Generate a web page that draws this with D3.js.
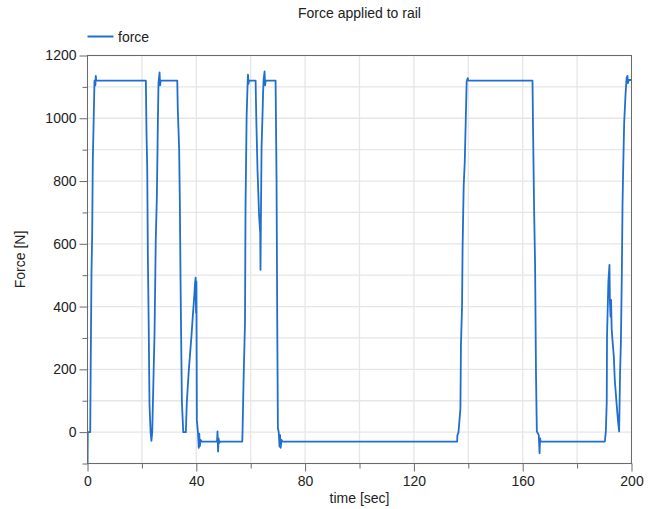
<!DOCTYPE html>
<html>
<head>
<meta charset="utf-8">
<script src="https://cdn.jsdelivr.net/npm/d3@7"></script>
<style>
  html, body { margin: 0; padding: 0; background: #fff; }
  svg { display: block; font-family: "Liberation Sans", Arial, sans-serif; }
</style>
</head>
<body>
<svg id="chart" width="665" height="509"></svg>
<script>
// Force applied to the rail over a 200 s run
const timeSec = [
  0, 0.1, 1.0, 1.2, 1.47, 1.73, 1.95, 2.2, 2.57, 2.9, 3.05, 3.2,
  21.45, 21.7, 21.96, 22.2, 22.44, 22.8, 23.2, 23.5, 23.8, 24.1, 24.65, 25.1, 25.5, 25.86, 26.1, 26.5, 26.7, 26.9,
  33.0, 33.2, 33.7, 33.95, 34.2, 34.7, 35.2, 36.15, 36.5, 37.25, 38.25, 38.7, 39.25, 39.5, 39.75, 39.9, 40.05, 40.2,
  40.6, 40.9, 41.1, 41.3, 41.6, 42.0,
  47.6, 47.8, 48.0, 48.2, 48.4, 48.7,
  56.9, 57.0, 57.4, 57.9, 58.1, 58.5, 58.85, 59.0, 59.2, 59.4,
  61.8, 62.05, 62.5, 63.1, 63.5, 63.6, 63.75, 64.0, 64.4, 64.55, 64.75, 65.1, 65.3, 65.5,
  69.15, 69.5, 69.75, 70.0, 70.3, 70.6, 70.8, 71.0, 71.3, 71.7,
  135.9, 136.0, 136.4, 137.1, 137.3, 137.7, 137.9, 138.3, 138.7, 139.1, 139.4, 139.8, 140.0,
  163.6, 163.8, 164.2, 164.55, 164.9, 165.2, 165.9, 166.2, 166.4, 166.6,
  190.2, 190.55, 190.9, 191.0, 191.5, 191.9, 192.05, 192.3, 192.5, 192.7, 193.0, 193.5, 193.85, 194.5, 195.0, 195.45,
  195.8, 196.1, 196.45, 196.7, 196.9, 197.3, 197.8, 198.2, 198.5, 198.7, 199.0, 200
];
const forceN = [
  -140, 0, 0, 237, 507, 636, 868, 966, 1120, 1105, 1135, 1120,
  1120, 950, 842, 552, 389, 87, 0, -28, 0, 113, 317, 613, 751, 979, 1112, 1146, 1105, 1120,
  1120, 1027, 900, 735, 485, 97, 0, 0, 93, 198, 310, 368, 432, 470, 492, 380, 480, 39,
  0, -50, -5, -45, -25, -30,
  -30, 2, -62, -20, -35, -30,
  -30, 0, 173, 348, 719, 1006, 1107, 1139, 1110, 1120,
  1120, 1002, 836, 687, 635, 517, 680, 910, 1027, 1081, 1123, 1149, 1105, 1120,
  1120, 804, 364, 14, 0, -46, -10, -50, -25, -30,
  -30, -10, 0, 75, 278, 400, 587, 783, 862, 1006, 1117, 1128, 1120,
  1120, 969, 708, 533, 177, 2, -9, -67, -20, -30,
  -30, 0, 97, 305, 480, 533, 420, 368, 421, 330, 294, 241, 167, 93, 40, 2,
  189, 285, 508, 724, 820, 985, 1075, 1128, 1135, 1112, 1122, 1122
];

const xMajorTicks = [0, 40, 80, 120, 160, 200];
const xMinorTicks = [20, 60, 100, 140, 180];
const yMajorTicks = [0, 200, 400, 600, 800, 1000, 1200];
const yMinorTicks = [-100, 100, 300, 500, 700, 900, 1100];

const titleText = "Force applied to rail";
const xLabel = "time [sec]";
const yLabel = "Force [N]";
const seriesName = "force";

const svg = d3.select("#chart");
const lineColor = "#1f6fd0";
const axisColor = "#6a6a6a";
const gridColor = "#e6e6e6";
const textColor = "#222";

const x = d3.scaleLinear().domain([0, 200]).range([87.5, 631.5]);
const y = d3.scaleLinear().domain([-100, 1200]).range([463.5, 55.5]);

// grid lines
const grid = svg.append("g");
grid.selectAll("line.gx")
  .data(xMajorTicks.concat(xMinorTicks))
  .join("line")
  .attr("x1", d => x(d)).attr("x2", d => x(d))
  .attr("y1", y.range()[1]).attr("y2", y.range()[0])
  .attr("stroke", gridColor).attr("stroke-width", 1.3);
grid.selectAll("line.gy")
  .data(yMajorTicks.concat(yMinorTicks))
  .join("line")
  .attr("y1", d => y(d)).attr("y2", d => y(d))
  .attr("x1", x.range()[0]).attr("x2", x.range()[1])
  .attr("stroke", gridColor).attr("stroke-width", 1.3);

// data line, clipped to the plot frame
svg.append("clipPath").attr("id", "plotClip")
  .append("rect")
  .attr("x", x.range()[0]).attr("y", y.range()[1])
  .attr("width", x.range()[1] - x.range()[0])
  .attr("height", y.range()[0] - y.range()[1]);

const pts = timeSec.map((t, i) => [t, forceN[i]]);
const line = d3.line().x(d => x(d[0])).y(d => y(d[1]));
svg.append("path")
  .datum(pts)
  .attr("clip-path", "url(#plotClip)")
  .attr("d", line)
  .attr("fill", "none")
  .attr("stroke", lineColor)
  .attr("stroke-width", 1.8)
  .attr("stroke-linejoin", "round");

// plot frame
svg.append("rect")
  .attr("x", x.range()[0]).attr("y", y.range()[1])
  .attr("width", x.range()[1] - x.range()[0])
  .attr("height", y.range()[0] - y.range()[1])
  .attr("fill", "none")
  .attr("stroke", axisColor).attr("stroke-width", 1);

// axes with major and minor ticks
function styleAxis(g) {
  g.select(".domain").remove();
  g.selectAll(".tick line").attr("stroke", axisColor);
  g.selectAll(".tick text")
    .attr("fill", textColor)
    .style("font-size", "14px")
    .style("font-family", "'Liberation Sans', Arial, sans-serif");
}

const xAxis = svg.append("g")
  .attr("transform", `translate(0,${y.range()[0]})`)
  .call(d3.axisBottom(x).tickValues(xMajorTicks).tickSize(8).tickPadding(5).tickFormat(d3.format("d")));
styleAxis(xAxis);
svg.append("g")
  .attr("transform", `translate(0,${y.range()[0]})`)
  .call(d3.axisBottom(x).tickValues(xMinorTicks).tickSize(5).tickFormat(""))
  .call(styleAxis);

const yAxis = svg.append("g")
  .attr("transform", `translate(${x.range()[0]},0)`)
  .call(d3.axisLeft(y).tickValues(yMajorTicks).tickSize(8).tickPadding(3).tickFormat(d3.format("d")));
styleAxis(yAxis);
svg.append("g")
  .attr("transform", `translate(${x.range()[0]},0)`)
  .call(d3.axisLeft(y).tickValues(yMinorTicks).tickSize(5).tickFormat(""))
  .call(styleAxis);

// title
svg.append("text")
  .attr("x", (x.range()[0] + x.range()[1]) / 2)
  .attr("y", 18)
  .attr("text-anchor", "middle")
  .attr("fill", textColor)
  .style("font-size", "14px")
  .text(titleText);

// axis labels
svg.append("text")
  .attr("x", (x.range()[0] + x.range()[1]) / 2)
  .attr("y", 503)
  .attr("text-anchor", "middle")
  .attr("fill", textColor)
  .style("font-size", "14px")
  .text(xLabel);

svg.append("text")
  .attr("transform", `translate(25,${(y.range()[0] + y.range()[1]) / 2}) rotate(-90)`)
  .attr("text-anchor", "middle")
  .attr("fill", textColor)
  .style("font-size", "14px")
  .text(yLabel);

// legend
const legend = svg.append("g");
legend.append("line")
  .attr("x1", 87.5).attr("x2", 113.5)
  .attr("y1", 36.5).attr("y2", 36.5)
  .attr("stroke", lineColor).attr("stroke-width", 2);
legend.append("text")
  .attr("x", 118).attr("y", 41.5)
  .attr("fill", textColor)
  .style("font-size", "14px")
  .text(seriesName);
</script>
</body>
</html>
